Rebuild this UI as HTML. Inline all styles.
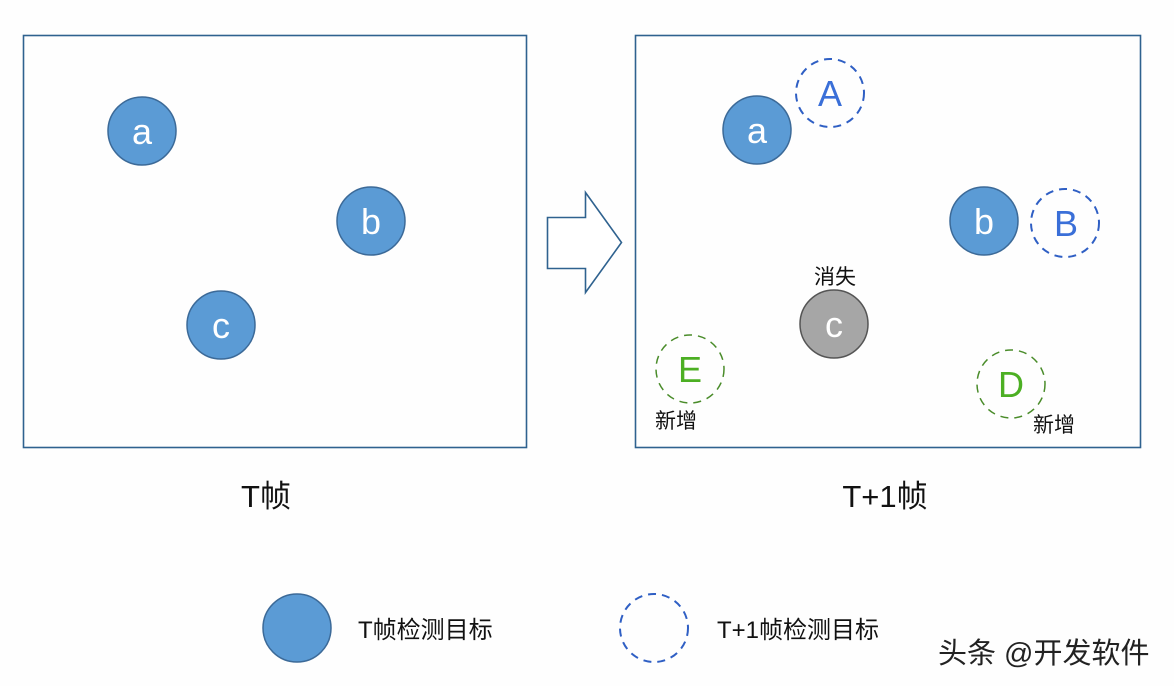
<!DOCTYPE html>
<html><head><meta charset="utf-8"><style>
html,body{margin:0;padding:0;background:#fff;}
svg{display:block;}
text{font-family:"Liberation Sans","Noto Sans CJK SC",sans-serif;}
</style></head><body>
<svg width="1174" height="686" viewBox="0 0 1174 686" xmlns="http://www.w3.org/2000/svg">
<rect width="1174" height="686" fill="#fefefe"/>
<rect x="23.5" y="35.5" width="503" height="412" fill="none" stroke="#2f628f" stroke-width="1.6"/>
<rect x="635.5" y="35.5" width="505" height="412" fill="none" stroke="#2f628f" stroke-width="1.6"/>
<g fill="#5b9bd5" stroke="#3c6a98" stroke-width="1.5">
<circle cx="142" cy="131" r="34"/><circle cx="371" cy="221" r="34"/><circle cx="221" cy="325" r="34"/>
<circle cx="757" cy="130" r="34"/><circle cx="984" cy="221" r="34"/>
<ellipse cx="297" cy="628" rx="34" ry="34"/>
</g>
<circle cx="834" cy="324" r="34" fill="#a6a6a6" stroke="#555" stroke-width="1.5"/>
<g fill="none" stroke="#2f5fc4" stroke-width="2" stroke-dasharray="8,6">
<circle cx="830" cy="93" r="34"/><circle cx="1065" cy="223" r="34"/><circle cx="654" cy="628" r="34"/>
</g>
<g fill="none" stroke="#4a8c2a" stroke-width="1.5" stroke-dasharray="8,6">
<circle cx="690" cy="369" r="34"/><circle cx="1011" cy="384" r="34"/>
</g>
<g font-size="36" fill="#fff" text-anchor="middle">
<text x="142" y="144">a</text><text x="371" y="234">b</text><text x="221" y="338">c</text>
<text x="757" y="143">a</text><text x="984" y="234">b</text><text x="834" y="337">c</text>
</g>
<g font-size="36" fill="#3a6fd8" text-anchor="middle">
<text x="830" y="106">A</text><text x="1066" y="236">B</text>
</g>
<g font-size="36" fill="#4caf23" text-anchor="middle">
<text x="690" y="382">E</text><text x="1011" y="397">D</text>
</g>
<g font-size="21" fill="#111" text-anchor="middle">
<text x="835" y="284">消失</text><text x="676" y="428">新增</text><text x="1054" y="432">新增</text>
</g>
<path d="M547.5 217.5 H585.5 V192.5 L621.5 242.5 L585.5 292.5 V268.5 H547.5 Z" fill="#fff" stroke="#2f628f" stroke-width="1.6"/>
<g font-size="31" fill="#111" text-anchor="middle">
<text x="266" y="507">T帧</text><text x="885" y="507">T+1帧</text>
</g>
<g font-size="24" fill="#111">
<text x="358" y="638">T帧检测目标</text><text x="717" y="638">T+1帧检测目标</text>
</g>
<text x="938" y="663" font-size="29" fill="#222">头条 @开发软件</text>
</svg>
</body></html>
